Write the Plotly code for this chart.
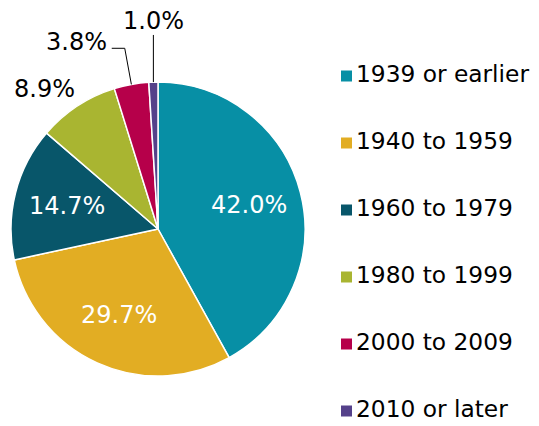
import math
import plotly.graph_objects as go

categories = ["1939 or earlier", "1940 to 1959", "1960 to 1979",
              "1980 to 1999", "2000 to 2009", "2010 or later"]
values = [42.0, 29.7, 14.7, 8.9, 3.8, 1.0]
colors = ["#078FA5", "#E2AD23", "#08566A", "#A9B531", "#B6004A", "#55418A"]
value_labels = ["42.0%", "29.7%", "14.7%", "8.9%", "3.8%", "1.0%"]

WIN_W, WIN_H = 539, 426
OFF = 8                      # default page body margin
W, H = WIN_W - OFF, WIN_H - OFF
FONT = "DejaVu Sans"
FS = 24
FS_LEG = 23.3

def px2paper(x, y):
    """window pixel -> paper coords"""
    return (x - OFF) / W, 1 - (y - OFF) / H

# pie geometry (window pixels)
cx, cy, r = 158, 229, 147
x0p, y1p = px2paper(cx - r, cy - r)
x1p, y0p = px2paper(cx + r, cy + r)

fig = go.Figure()
fig.add_trace(go.Pie(
    labels=categories, values=values, sort=False, direction="clockwise",
    rotation=0, marker=dict(colors=colors, line=dict(color="white", width=1.5)),
    textinfo="none", domain=dict(x=[x0p, x1p], y=[y0p, y1p]),
    showlegend=False, hoverinfo="skip",
))

# legend drawn on hidden axes: x in window pixels, y = -row index
LEG_TOP, LEG_STEP = 76, 67
LEG_MARK_X, LEG_TEXT_X = 346.5, 356
rows = [-i for i in range(len(categories))]
fig.add_trace(go.Scatter(
    x=[LEG_MARK_X] * len(categories), y=rows, mode="markers",
    marker=dict(symbol="square", size=11, color=colors, line=dict(width=0)),
    showlegend=False, hoverinfo="skip", cliponaxis=False))
fig.add_trace(go.Scatter(
    x=[LEG_TEXT_X] * len(categories), y=rows, mode="text", text=categories,
    textposition="middle right", marker=dict(size=1),
    textfont=dict(family=FONT, size=FS_LEG, color="black"),
    showlegend=False, hoverinfo="skip", cliponaxis=False))

# data labels + leader lines, computed from slice angles
total = sum(values)
cum = 0
shapes = []
annotations = []
def ann(x, y, text, color, xa, ya):
    ax, ay = px2paper(x, y)
    annotations.append(dict(x=ax, y=ay, xref="paper", yref="paper", text=text,
                            xanchor=xa, yanchor=ya, showarrow=False, borderpad=0,
                            font=dict(family=FONT, size=FS, color=color)))

for i, v in enumerate(values):
    mid = (cum + v / 2) / total * 2 * math.pi
    cum += v
    sx, sy = math.sin(mid), -math.cos(mid)
    ex, ey = cx + r * sx, cy + r * sy
    if v >= 10:
        ann(cx + 0.64 * r * sx, cy + 0.64 * r * sy, value_labels[i], "white", "center", "middle")
    elif v >= 5:
        ann(cx + 1.02 * r * sx, cy + 1.02 * r * sy, value_labels[i], "black", "right", "bottom")
    elif v >= 2:
        kx, ky = cx + 1.25 * r * sx, cy + 1.25 * r * sy
        hx = kx - 13
        pts = [(ex, ey), (kx, ky), (hx, ky)]
        path = "M " + " L ".join(f"{px2paper(a, b)[0]},{px2paper(a, b)[1]}" for a, b in pts)
        shapes.append(dict(type="path", path=path, xref="paper", yref="paper",
                           line=dict(color="black", width=1)))
        ann(hx - 4, ky - 6, value_labels[i], "black", "right", "middle")
    else:
        ty = cy - 1.32 * r
        lx0, ly0 = px2paper(ex, ey)
        lx1, ly1 = px2paper(ex, ty)
        shapes.append(dict(type="line", x0=lx0, y0=ly0, x1=lx1, y1=ly1,
                           xref="paper", yref="paper", line=dict(color="black", width=1)))
        ann(ex, ty + 1, value_labels[i], "black", "center", "bottom")

# y range so that row i sits at window y = LEG_TOP + i*LEG_STEP
y_top = -(OFF - LEG_TOP) / LEG_STEP
y_bot = -(WIN_H - LEG_TOP) / LEG_STEP
fig.update_layout(
    width=W, height=H, margin=dict(l=0, r=0, t=0, b=0),
    paper_bgcolor="white", plot_bgcolor="white",
    font=dict(family=FONT, size=FS, color="black"),
    xaxis=dict(visible=False, range=[OFF, WIN_W], domain=[0, 1], fixedrange=True),
    yaxis=dict(visible=False, range=[y_bot, y_top], domain=[0, 1], fixedrange=True),
    shapes=shapes, annotations=annotations, showlegend=False,
)

fig.write_html("out.html")
